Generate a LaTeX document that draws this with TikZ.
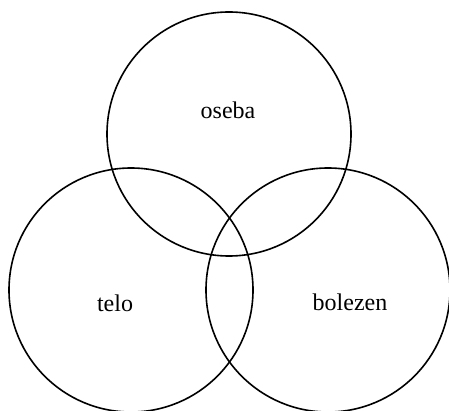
\documentclass[tikz,border=0pt]{standalone}
\usepackage{fontspec}
\setmainfont{Liberation Serif}
\tikzset{
  set_circ/.style={
    circle, draw=black, line width=0.8pt,
    minimum size=122pt, inner sep=0pt},
  set_lbl/.style={font=\fontsize{12}{14}\selectfont, inner sep=0pt},
}
\begin{document}
\begin{tikzpicture}[x=0.5pt,y=-0.5pt]

%% frame
\useasboundingbox (0,0) rectangle (449,411);

%% circles
\node[set_circ] at (229,134) (C_os){};
\node[set_circ] at (131,290) (C_te){};
\node[set_circ] at (328,290) (C_bo){};

%% labels
\node[set_lbl] at (228,110) (L_os){oseba};
\node[set_lbl] at (115,303) (L_te){telo};
\node[set_lbl] at (350,302) (L_bo){bolezen};

\end{tikzpicture}
\end{document}
